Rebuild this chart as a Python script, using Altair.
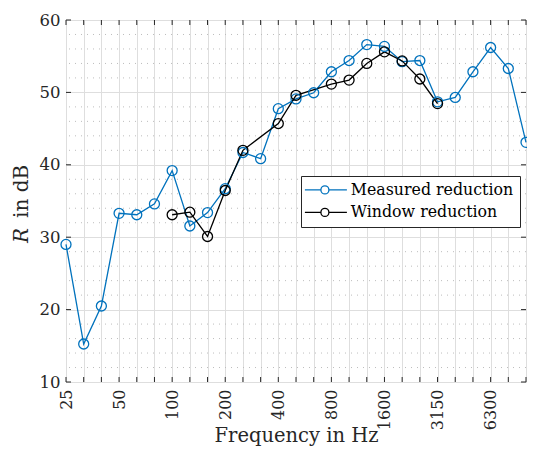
import altair as alt
import pandas as pd

# 1/3-octave band centre frequencies (Hz), evenly spaced on the axis
freqs = ["25", "31.5", "40", "50", "63", "80", "100", "125", "160", "200",
         "250", "315", "400", "500", "630", "800", "1000", "1250", "1600",
         "2000", "2500", "3150", "4000", "5000", "6300", "8000", "10000"]
shown_labels = ["25", "50", "100", "200", "400", "800", "1600", "3150", "6300"]

measured = [29.0, 15.25, 20.5, 33.3, 33.1, 34.6, 39.2, 31.55, 33.4, 36.7,
            41.7, 40.85, 47.75, 49.1, 49.95, 52.85, 54.4, 56.6, 56.35,
            54.25, 54.4, 48.7, 49.3, 52.85, 56.2, 53.3, 43.1]
window = [None, None, None, None, None, None, 33.1, 33.45, 30.1, 36.45,
          42.0, None, 45.7, 49.6, None, 51.15, 51.7, 54.0, 55.6,
          54.35, 51.85, 48.45, None, None, None, None, None]

series_names = ["Measured reduction", "Window reduction"]
series_colors = ["#0072BD", "#000000"]

y_major = [10, 20, 30, 40, 50, 60]
y_minor = [v for v in range(10, 61, 2) if v % 10 != 0]

rows = []
for name, vals in zip(series_names, [measured, window]):
    for f, v in zip(freqs, vals):
        if v is not None:
            rows.append({"freq": f, "R": v, "series": name})
df = pd.DataFrame(rows)
df_minor = pd.DataFrame({"R": y_minor})
df_major = pd.DataFrame({"R": y_major})
df_freq = pd.DataFrame({"freq": freqs})

FONT = "DejaVu Serif"
TXT = "#262626"
W, H = 460, 362

label_list = "[" + ",".join("'" + s + "'" for s in shown_labels) + "]"

x_enc = alt.X(
    "freq:O",
    sort=freqs,
    scale=alt.Scale(type="point", padding=0, domain=freqs),
    axis=alt.Axis(
        title="Frequency in Hz",
        labelExpr=f"indexof({label_list}, datum.label) >= 0 ? datum.label : ''",
        labelAngle=270,
        labelFont=FONT, labelFontSize=16, labelColor=TXT,
        labelPadding=7, tickSize=0, domain=False,
        grid=True, gridColor="#dedede", gridWidth=1,
        titleFont=FONT, titleFontSize=19.5, titleFontWeight="normal",
        titleColor=TXT, titleBaseline="alphabetic", titleY=59,
    ),
)
y_enc = alt.Y(
    "R:Q",
    scale=alt.Scale(domain=[10, 60], nice=False, zero=False),
    axis=alt.Axis(
        title=None, values=y_major,
        labelFont=FONT, labelFontSize=16.5, labelColor=TXT,
        labelPadding=6, tickSize=0, domain=False,
        grid=True, gridColor="#dedede", gridWidth=1,
    ),
)

minor = alt.Chart(df_minor).mark_rule(
    color="#bdbdbd", strokeWidth=1, strokeDash=[1, 5]
).encode(y=y_enc)

tick_style = dict(color=TXT, strokeWidth=1)
xt_bottom = alt.Chart(df_freq).mark_rule(**tick_style).encode(
    x=x_enc, y=alt.value(H - 5), y2=alt.value(H))
xt_top = alt.Chart(df_freq).mark_rule(**tick_style).encode(
    x=x_enc, y=alt.value(0), y2=alt.value(5))
yt_left = alt.Chart(df_major).mark_rule(**tick_style).encode(
    y=y_enc, x=alt.value(0), x2=alt.value(5))
yt_right = alt.Chart(df_major).mark_rule(**tick_style).encode(
    y=y_enc, x=alt.value(W - 5), x2=alt.value(W))

legend_symbol = ("M-2,0H1.2M2.8,0H6.4"
                 "M1.2,0A0.8,0.8,0,1,0,2.8,0A0.8,0.8,0,1,0,1.2,0")

stroke_enc = alt.Stroke(
    "series:N",
    scale=alt.Scale(domain=series_names, range=series_colors),
    legend=alt.Legend(
        title=None, orient="none", legendX=235, legendY=156,
        symbolType=legend_symbol, symbolSize=100, symbolStrokeWidth=1.3,
        symbolFillColor="white", symbolOffset=0,
        labelFont=FONT, labelFontSize=15.8, labelColor="#000000",
        labelLimit=300, labelOffset=28, padding=6, rowPadding=5.5,
        strokeColor="#262626", fillColor="white", cornerRadius=0,
    ),
)

lines = alt.Chart(df).mark_line(strokeWidth=1.3).encode(
    x=x_enc, y=y_enc, stroke=stroke_enc, detail="series:N")
points = alt.Chart(df).mark_point(
    shape="circle", size=100, filled=False, strokeWidth=1.3, opacity=1
).encode(x=x_enc, y=y_enc, stroke=stroke_enc)

ytitle_r = alt.Chart(pd.DataFrame({"t": ["R"]})).mark_text(
    font=FONT, fontSize=20, fontStyle="italic", angle=270,
    align="left", baseline="alphabetic", color=TXT
).encode(text="t:N", x=alt.value(28 - 66.5), y=alt.value(243 - 20))
ytitle_rest = alt.Chart(pd.DataFrame({"t": ["in dB"]})).mark_text(
    font=FONT, fontSize=20, angle=270,
    align="left", baseline="alphabetic", color=TXT
).encode(text="t:N", x=alt.value(28 - 66.5), y=alt.value(218 - 20))

chart = alt.layer(
    minor, xt_bottom, xt_top, yt_left, yt_right, lines, points,
    ytitle_r, ytitle_rest
).properties(
    width=W, height=H,
    autosize=alt.AutoSizeParams(type="none"),
    padding={"left": 58, "top": 12, "right": 1, "bottom": 64},
).configure_view(
    stroke="#262626", strokeWidth=1
).configure(background="white")

chart.save("out.html", embed_options={"renderer": "svg", "actions": False})
